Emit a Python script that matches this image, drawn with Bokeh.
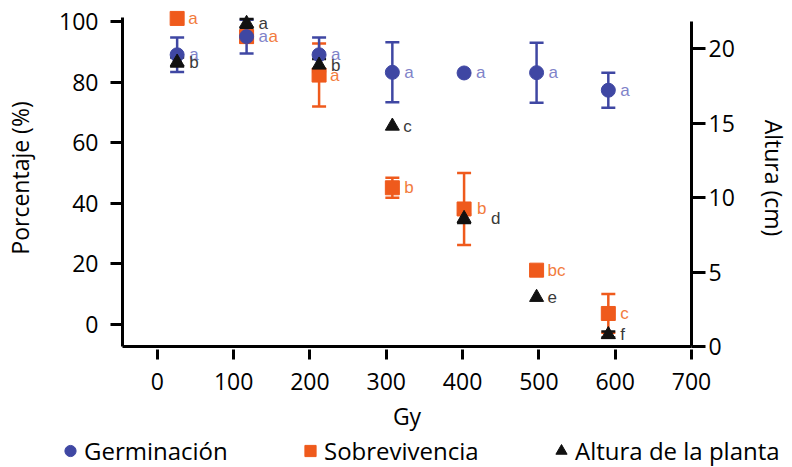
from bokeh.plotting import figure
from bokeh.layouts import column
from bokeh.models import (ColumnDataSource, Range1d, LinearAxis, FixedTicker,
                          Whisker, TeeHead, Legend, LegendItem)
from bokeh.core.properties import value
from bokeh.embed import file_html
from bokeh.resources import INLINE

# ---------------- data ----------------
dose = [26, 117, 212, 308, 402, 497, 591]                    # Gy
germ = [89, 95, 89, 83.2, 83, 83.1, 77.3]                    # Germinación (%)
germ_err = [5.7, 5.6, 5.7, 9.9, 0, 9.9, 5.8]
germ_letters = ["a", "a", "a", "a", "a", "a", "a"]
surv = [101, 95, 82.3, 45.1, 38.1, 17.9, 3.6]                # Sobrevivencia (%)
surv_err = [0, 2, 10.4, 3.3, 11.9, 0, 6.4]
surv_letters = ["a", "a", "a", "b", "b", "bc", "c"]
alt = [19.1, 21.7, 18.9, 14.8, 8.6, 3.3, 0.8]                # Altura (cm)
alt_err = [0.3, 0.3, 0.4, 0, 0.3, 0, 0.2]
alt_letters = ["b", "a", "b", "c", "d", "e", "f"]
series_names = ["Germinación", "Sobrevivencia", "Altura de la planta"]

x_ticks = [0, 100, 200, 300, 400, 500, 600, 700]
pct_ticks = [0, 20, 40, 60, 80, 100]
cm_ticks = [0, 5, 10, 15, 20]

# ---------------- styles ----------------
BLUE = "#3f47a3"
ORANGE = "#ef5a1c"
BLACK = "#111111"
BLUE_T = "#7f83c9"
ORANGE_T = "#f27b3d"
BLACK_T = "#3a3a3a"
FONT = "Open Sans"
germ_dx = [12] * 7
surv_dx = [11, 22, 11, 12, 13, 11, 12]
alt_dx = [12, 12, 12, 11, 27, 11, 12]
legend_left = [56, 296, 547]          # screen px of each legend entry

p = figure(width=792, height=434, output_backend="svg", toolbar_location=None,
           x_range=Range1d(-45.6, 700), y_range=Range1d(-7.3, 103.95),
           min_border_left=122, min_border_right=98, min_border_top=9,
           min_border_bottom=0)
p.extra_y_ranges = {"cm": Range1d(0, 22.63)}
p.outline_line_color = None
p.xgrid.visible = False
p.ygrid.visible = False


def style_axis(ax, tick_in, tick_out, standoff, label_standoff):
    ax.axis_line_width = 3
    ax.axis_line_color = "black"
    ax.major_tick_line_width = 3
    ax.major_tick_line_color = "black"
    ax.major_tick_in = tick_in
    ax.major_tick_out = tick_out
    ax.minor_tick_line_color = None
    ax.major_label_text_font = FONT
    ax.major_label_text_font_size = "23px"
    ax.major_label_text_color = "black"
    ax.major_label_standoff = standoff
    ax.axis_label_text_font = FONT
    ax.axis_label_text_font_size = "23px"
    ax.axis_label_text_font_style = "normal"
    ax.axis_label_text_color = "black"
    ax.axis_label_standoff = label_standoff


xa = p.xaxis[0]
xa.ticker = FixedTicker(ticks=x_ticks)
xa.axis_label = "Gy"
style_axis(xa, -3, 13, 13, 7)

ya = p.yaxis[0]
ya.ticker = FixedTicker(ticks=pct_ticks)
ya.axis_label = "Porcentaje (%)"
ya.bounds = (-7.3, 101.3)
style_axis(ya, 0, 12, 12, 20)

ra = LinearAxis(y_range_name="cm", ticker=FixedTicker(ticks=cm_ticks),
                axis_label="Altura (cm)", bounds=(0, 21.8))
style_axis(ra, 0, 14, 3, 20)
p.add_layout(ra, "right")


def err_source(xs, ys, es):
    xx, up, lo = [], [], []
    for x, y, e in zip(xs, ys, es):
        if e > 0:
            xx.append(x)
            up.append(y + e)
            lo.append(y - e)
    return ColumnDataSource(dict(x=xx, upper=up, lower=lo))


def add_whisker(src, color, rng="default"):
    w = Whisker(source=src, base="x", upper="upper", lower="lower",
                dimension="height", line_color=color, line_width=2.5,
                upper_head=TeeHead(size=14, line_color=color, line_width=2.5),
                lower_head=TeeHead(size=14, line_color=color, line_width=2.5),
                y_range_name=rng)
    p.add_layout(w)


add_whisker(err_source(dose, surv, surv_err), ORANGE)
add_whisker(err_source(dose, germ, germ_err), BLUE)
add_whisker(err_source(dose, alt, alt_err), BLACK, "cm")

src_s = ColumnDataSource(dict(x=dose, y=surv, t=surv_letters, dx=surv_dx))
src_g = ColumnDataSource(dict(x=dose, y=germ, t=germ_letters, dx=germ_dx))
src_a = ColumnDataSource(dict(x=dose, y=alt, t=alt_letters, dx=alt_dx))

p.scatter("x", "y", source=src_s, marker="square", size=14,
          fill_color=ORANGE, line_color=ORANGE)
p.scatter("x", "y", source=src_g, marker="circle", size=14,
          fill_color=BLUE, line_color=BLUE)
p.scatter("x", "y", source=src_a, marker="triangle", size=14,
          fill_color=BLACK, line_color=BLACK, y_range_name="cm")

for src, col, rng in ((src_s, ORANGE_T, "default"), (src_g, BLUE_T, "default"),
                      (src_a, BLACK_T, "cm")):
    p.text("x", "y", text="t", source=src, x_offset="dx", y_offset=0,
           text_font=value("Liberation Sans"), text_font_size="17px",
           text_color=col, text_baseline="middle", text_align="left",
           y_range_name=rng)

# ---------------- legend strip below the chart ----------------
# (proxy renderers hold the first real point, which lies outside this strip's ranges)
lg = figure(width=792, height=33, output_backend="svg", toolbar_location=None,
            x_range=Range1d(0, 1), y_range=Range1d(0, 1),
            min_border=0, outline_line_color=None)
lg.frame_align = False
lg.axis.visible = False
lg.grid.visible = False
lr_g = lg.scatter(dose[:1], germ[:1], marker="circle",
                  fill_color=BLUE, line_color=BLUE)
lr_s = lg.scatter(dose[:1], surv[:1], marker="square",
                  fill_color=ORANGE, line_color=ORANGE)
lr_a = lg.scatter(dose[:1], alt[:1], marker="triangle",
                  fill_color=BLACK, line_color=BLACK)
for name, r, x0 in zip(series_names, (lr_g, lr_s, lr_a), legend_left):
    lg.add_layout(Legend(items=[LegendItem(label=name, renderers=[r])],
                         orientation="horizontal", location=(x0, 0),
                         glyph_width=28, glyph_height=31, label_standoff=0,
                         padding=0, margin=0,
                         border_line_color=None, background_fill_alpha=0,
                         label_text_font=FONT, label_text_font_size="24px",
                         label_text_color="black"))

open("out.html", "w").write(file_html(column(p, lg, spacing=0), INLINE))
